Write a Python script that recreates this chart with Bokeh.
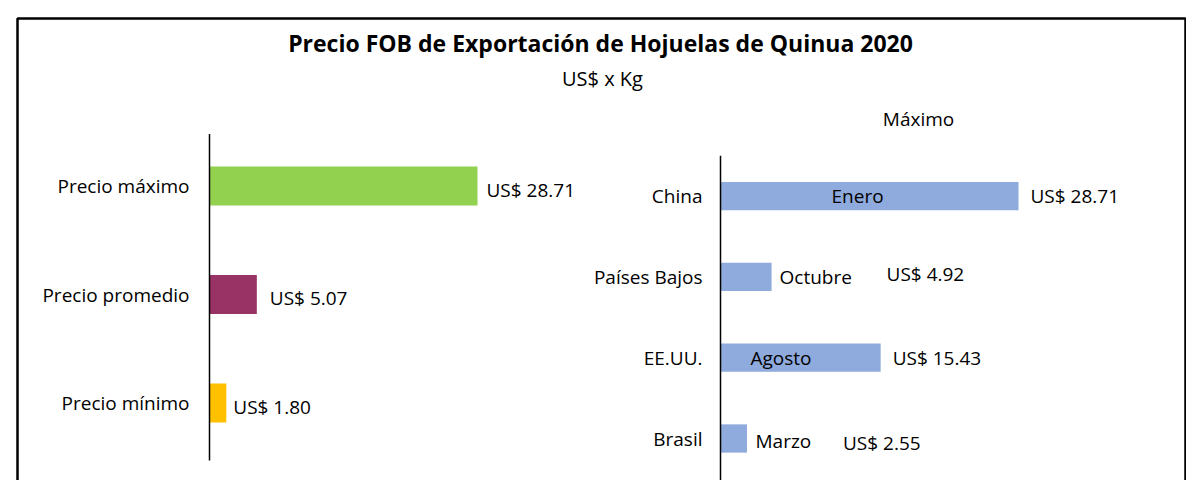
from bokeh.plotting import figure
from bokeh.models import Range1d, BoxAnnotation, Label, ColumnDataSource
from bokeh.core.properties import value
from bokeh.embed import file_html
from bokeh.resources import INLINE

# ---------------- data ----------------
title_text = "Precio FOB de Exportación de Hojuelas de Quinua  2020"
subtitle_text = "US$ x Kg"
right_title_text = "Máximo"

summary_cats = ["Precio mínimo", "Precio promedio", "Precio máximo"]
summary_vals = [1.80, 5.07, 28.71]

country_cats = ["Brasil", "EE.UU.", "Países Bajos", "China"]
country_vals = [2.55, 15.43, 4.92, 28.71]
country_months = ["Marzo", "Agosto", "Octubre", "Enero"]

# ---------------- styles ----------------
summary_colors = ["#FFC000", "#993366", "#92D050"]
country_color = "#8FAADC"
summary_val_dx = [7, 13, 9]
summary_val_dy = [4, 3, 4]
country_val_dx = [96, 12, 115, 12]
country_val_dy = [4, 0, -3, 0]
month_dx = [35, 30, 59, 111]
month_dy = [2, 0, 0, 0]

W, H = 1186, 480
FONT = value("Open Sans")
FS = value("19px")

# left chart geometry (canvas px)
L_AXIS_X, L_PX = 209, 9.335
L_Y0, L_PY = 77.5, 108.5
# right chart geometry
R_AXIS_X, R_PX = 720, 10.38
R_Y0, R_PY = 42, 80.8

xl = Range1d(-L_AXIS_X / L_PX, (W - L_AXIS_X) / L_PX)
yl = Range1d(-L_Y0 / L_PY, (H - L_Y0) / L_PY)
xr = Range1d(-R_AXIS_X / R_PX, (W - R_AXIS_X) / R_PX)
yr = Range1d(-R_Y0 / R_PY, (H - R_Y0) / R_PY)

p = figure(width=W, height=H, x_range=xl, y_range=yl, output_backend="svg",
           toolbar_location=None, min_border=0, x_axis_location=None,
           y_axis_location=None, outline_line_color=None)
p.grid.visible = False
p.extra_x_ranges = {"r": xr}
p.extra_y_ranges = {"r": yr}

# ---------- left chart ----------
src_l = ColumnDataSource(dict(
    y=list(range(len(summary_cats))), cat=summary_cats, v=summary_vals,
    c=summary_colors, lab=[f"US$ {v:.2f}" for v in summary_vals],
    dx=summary_val_dx, dy=summary_val_dy))
p.hbar(y="y", left=0, right="v", height=0.36, fill_color="c", line_color=None, source=src_l)
p.segment(x0=0, y0=-0.53, x1=0, y1=len(summary_cats) - 0.52, line_color="black", line_width=1.5)
p.text(x=0, y="y", text="cat", x_offset=-20, text_align="right", text_baseline="middle",
       text_font=FONT, text_font_size=FS, text_color="black", source=src_l)
p.text(x="v", y="y", text="lab", x_offset="dx", y_offset="dy", text_align="left",
       text_baseline="middle", text_font=FONT, text_font_size=FS, text_color="black", source=src_l)

# ---------- right chart ----------
src_r = ColumnDataSource(dict(
    y=list(range(len(country_cats))), cat=country_cats, v=country_vals,
    m=country_months, lab=[f"US$ {v:.2f}" for v in country_vals],
    dx=country_val_dx, dy=country_val_dy, mdx=month_dx, mdy=month_dy))
p.hbar(y="y", left=0, right="v", height=0.35, fill_color=country_color, line_color=None,
       source=src_r, x_range_name="r", y_range_name="r")
p.segment(x0=0, y0=-0.52, x1=0, y1=len(country_cats) - 0.5, line_color="black", line_width=1.5,
          x_range_name="r", y_range_name="r")
p.text(x=0, y="y", text="cat", x_offset=-18, text_align="right", text_baseline="middle",
       text_font=FONT, text_font_size=FS, text_color="black", source=src_r,
       x_range_name="r", y_range_name="r")
p.text(x=0, y="y", text="m", x_offset="mdx", y_offset="mdy", text_align="left",
       text_baseline="middle", text_font=FONT, text_font_size=FS, text_color="black",
       source=src_r, x_range_name="r", y_range_name="r")
p.text(x="v", y="y", text="lab", x_offset="dx", y_offset="dy", text_align="left",
       text_baseline="middle", text_font=FONT, text_font_size=FS, text_color="black",
       source=src_r, x_range_name="r", y_range_name="r")

# ---------- titles ----------
p.add_layout(Label(x=603, y=H - 42, x_units="screen", y_units="screen", text=title_text,
                   text_align="center", text_baseline="middle", text_font="Open Sans",
                   text_font_size="23px", text_font_style="bold", text_color="black"))
p.add_layout(Label(x=602, y=H - 78, x_units="screen", y_units="screen", text=subtitle_text,
                   text_align="center", text_baseline="middle", text_font="Open Sans",
                   text_font_size="20px", text_color="black"))
p.add_layout(Label(x=918, y=H - 118, x_units="screen", y_units="screen", text=right_title_text,
                   text_align="center", text_baseline="middle", text_font="Open Sans",
                   text_font_size="19px", text_color="black"))

# ---------- outer border ----------
p.add_layout(BoxAnnotation(left=xl.start + 17 / L_PX, right=xl.start + 1185 / L_PX,
                           top=yl.end - 18 / L_PY, bottom=yl.start - 1,
                           fill_alpha=0, line_alpha=1, line_color="black", line_width=2.5))

open("out.html", "w").write(file_html(p, INLINE))
